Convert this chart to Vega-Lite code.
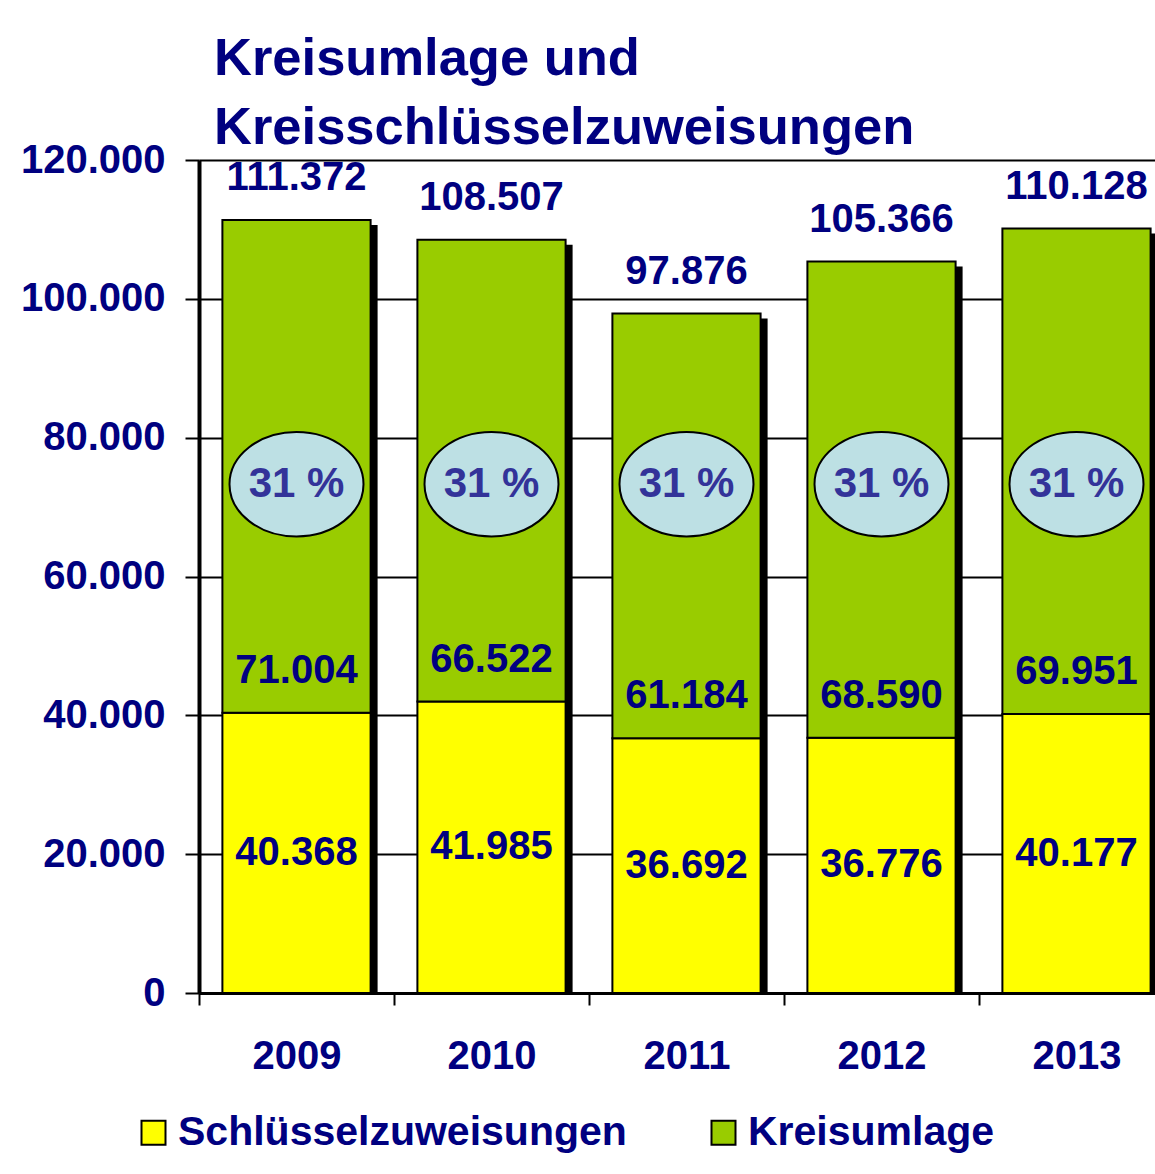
{
  "$schema": "https://vega.github.io/schema/vega-lite/v6.json",
  "autosize": {"type": "none"},
  "width": 956,
  "height": 833,
  "padding": {"left": 199, "top": 160, "right": 0, "bottom": 181},
  "background": "white",
  "config": {
    "locale": {"number": {"decimal": ",", "thousands": ".", "grouping": [3], "currency": ["", " €"]}},
    "font": "Liberation Sans",
    "view": {"stroke": null},
    "text": {"font": "Liberation Sans", "fontWeight": "bold", "color": "#000080", "fontSize": 40, "baseline": "middle", "align": "center"}
  },
  "title": {
    "text": ["Kreisumlage und", "Kreisschlüsselzuweisungen"],
    "anchor": "start",
    "frame": "group",
    "dx": 15,
    "offset": -15,
    "baseline": "top",
    "font": "Liberation Sans",
    "fontSize": 52.5,
    "lineHeight": 69,
    "fontWeight": "bold",
    "color": "#000080"
  },
  "data": {
    "values": [
      {"Jahr": "2009", "Zuweisungen": 40368, "Umlage": 71004, "Gesamt": 111372, "Umlagesatz": "31 %"},
      {"Jahr": "2010", "Zuweisungen": 41985, "Umlage": 66522, "Gesamt": 108507, "Umlagesatz": "31 %"},
      {"Jahr": "2011", "Zuweisungen": 36692, "Umlage": 61184, "Gesamt": 97876, "Umlagesatz": "31 %"},
      {"Jahr": "2012", "Zuweisungen": 36776, "Umlage": 68590, "Gesamt": 105366, "Umlagesatz": "31 %"},
      {"Jahr": "2013", "Zuweisungen": 40177, "Umlage": 69951, "Gesamt": 110128, "Umlagesatz": "31 %"}
    ]
  },
  "encoding": {
    "x": {
      "field": "Jahr",
      "type": "nominal",
      "scale": {"range": [0, 975], "paddingInner": 0.24, "paddingOuter": 0.12},
      "axis": {
        "title": null,
        "labelAngle": 0,
        "labelFont": "Liberation Sans",
        "labelFontSize": 40,
        "labelFontWeight": "bold",
        "labelColor": "#000080",
        "labelPadding": 31,
        "tickOffset": -97.5,
        "labelOffset": 97.5,
        "tickSize": 12,
        "tickWidth": 2,
        "tickColor": "black",
        "domainColor": "black",
        "domainWidth": 3,
        "grid": false,
        "zindex": 1
      }
    }
  },
  "layer": [
    {
      "layer": [
        {
          "mark": {"type": "bar", "color": "black", "xOffset": 7, "yOffset": 5},
          "encoding": {
            "y": {
              "field": "Gesamt",
              "type": "quantitative",
              "scale": {"domain": [0, 120000], "nice": false},
              "axis": {
                "title": null,
                "values": [0, 20000, 40000, 60000, 80000, 100000, 120000],
                "format": ",.0f",
                "labelFont": "Liberation Sans",
                "labelFontSize": 40,
                "labelFontWeight": "bold",
                "labelColor": "#000080",
                "labelPadding": 20,
                "tickSize": 14,
                "tickWidth": 2,
                "tickColor": "black",
                "domainColor": "black",
                "domainWidth": 4,
                "grid": true,
                "gridColor": "black",
                "gridWidth": 2,
                "gridOpacity": 1,
                "zindex": 0
              }
            },
            "y2": {"datum": 0}
          }
        },
        {
          "mark": {"type": "bar", "stroke": "black", "strokeWidth": 2},
          "encoding": {
            "y": {"field": "Zuweisungen", "type": "quantitative"},
            "y2": {"datum": 0},
            "color": {
              "datum": "Schlüsselzuweisungen",
              "type": "nominal",
              "scale": {"domain": ["Schlüsselzuweisungen", "Kreisumlage"], "range": ["#FFFF00", "#99CC00"]},
              "legend": {
                "title": null,
                "orient": "none",
                "direction": "horizontal",
                "legendX": -66,
                "legendY": 952,
                "padding": 0,
                "symbolType": "square",
                "symbolSize": 576,
                "symbolStrokeColor": "black",
                "symbolStrokeWidth": 2,
                "symbolOpacity": 1,
                "labelFont": "Liberation Sans",
                "labelFontSize": 41,
                "labelFontWeight": "bold",
                "labelColor": "#000080",
                "labelOffset": 4,
                "labelLimit": 600,
                "columnPadding": 76
              }
            }
          }
        },
        {
          "mark": {"type": "bar", "stroke": "black", "strokeWidth": 2},
          "encoding": {
            "y": {"field": "Gesamt", "type": "quantitative"},
            "y2": {"field": "Zuweisungen"},
            "color": {"datum": "Kreisumlage", "type": "nominal"}
          }
        },
        {
          "mark": {
            "type": "point",
            "shape": "M -1 0 A 1 0.78 0 1 0 1 0 A 1 0.78 0 1 0 -1 0 Z",
            "size": 17956,
            "filled": true,
            "fill": "#BDE0E4",
            "stroke": "black",
            "strokeWidth": 2,
            "opacity": 1
          },
          "encoding": {"y": {"datum": 73300}}
        },
        {
          "mark": {"type": "text", "fontSize": 42, "color": "#333399"},
          "encoding": {
            "y": {"datum": 73300},
            "text": {"field": "Umlagesatz", "type": "nominal"}
          }
        },
        {
          "mark": {"type": "text", "dy": -42},
          "encoding": {
            "y": {"field": "Zuweisungen", "type": "quantitative"},
            "text": {"field": "Umlage", "type": "quantitative", "format": ",.0f"}
          }
        },
        {
          "mark": {"type": "text", "dy": -42},
          "encoding": {
            "y": {"field": "Gesamt", "type": "quantitative"},
            "text": {"field": "Gesamt", "type": "quantitative", "format": ",.0f"}
          }
        }
      ]
    },
    {
      "mark": {"type": "text"},
      "encoding": {
        "y": {"field": "Zuweisungen", "type": "quantitative", "scale": {"domain": [0, 240000], "nice": false}, "axis": null},
        "text": {"field": "Zuweisungen", "type": "quantitative", "format": ",.0f"}
      }
    }
  ],
  "resolve": {"scale": {"y": "independent"}}
}
